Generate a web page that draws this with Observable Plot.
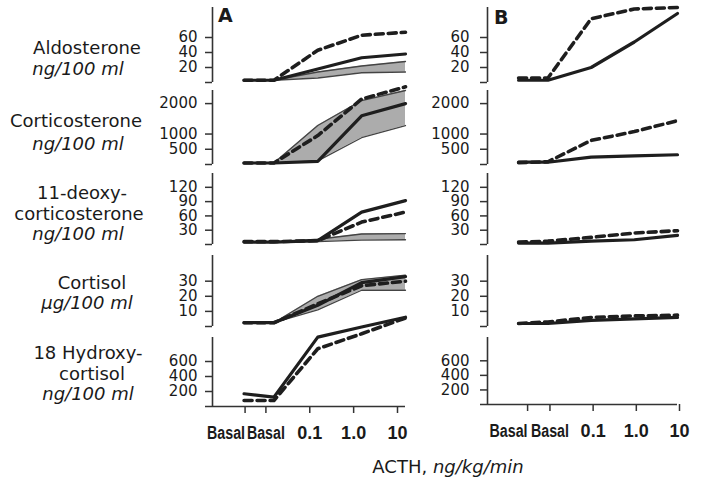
<!DOCTYPE html>
<html><head><meta charset="utf-8">
<script src="https://cdn.jsdelivr.net/npm/d3@7"></script>
<script src="https://cdn.jsdelivr.net/npm/@observablehq/plot@0.6"></script>
<style>
html,body{margin:0;padding:0;background:#fff;}
#chart{position:relative;width:701px;height:478px;overflow:hidden;font-family:"DejaVu Sans",sans-serif;color:#1a1a1a;background:#fff;}
.lbl{position:absolute;white-space:nowrap;font-size:18px;line-height:21px;transform:translate(-50%,-50%);}
.it{font-style:italic;}
.panel{position:absolute;}
.letter{position:absolute;font-weight:bold;font-size:19px;line-height:19px;}
</style></head><body><div id="chart"></div>
<script>
// ---- data ----
const doseLabels = ["Basal", "Basal", "0.1", "1.0", "10"];
const doseLog = [-2.68, -2, -1, 0, 1]; // log10 ACTH dose; basal samples placed to the left

const aldoLabel = ["Aldosterone", "ng/100 ml"];
const corticoLabel = ["Corticosterone", "ng/100 ml"];
const docLabel = ["11-deoxy-", "corticosterone", "ng/100 ml"];
const cortisolLabel = ["Cortisol", "µg/100 ml"];
const ohLabel = ["18 Hydroxy-", "cortisol", "ng/100 ml"];
const xTitle = ["ACTH, ", "ng/kg/min"];
const panelLetters = ["A", "B"];

const ticksAldo = [20, 40, 60];
const ticksCortico = [500, 1000, 2000];
const ticksDoc = [30, 60, 90, 120];
const ticksCortisol = [10, 20, 30];
const ticksOH = [200, 400, 600];

// Panel A
const aldoA_solid = [3, 3, 18, 33, 38];
const aldoA_dash = [3, 3, 43, 63, 67];
const aldoA_lo = [3, 3, 6, 13, 14];
const aldoA_hi = [3, 3, 14, 22, 28];
const corticoA_solid = [50, 50, 100, 1600, 2000];
const corticoA_dash = [50, 50, 950, 2150, 2550];
const corticoA_lo = [50, 50, 120, 880, 1280];
const corticoA_hi = [50, 50, 1280, 2100, 2430];
const docA_solid = [5, 5, 8, 68, 92];
const docA_dash = [6, 6, 8, 47, 68];
const docA_lo = [5, 5, 6, 9, 10];
const docA_hi = [5, 5, 11, 22, 23];
const cortisolA_solid = [2.5, 2.5, 14, 29, 33];
const cortisolA_dash = [2.5, 2.5, 15, 27, 30];
const cortisolA_lo = [2.5, 2.5, 11, 24, 24];
const cortisolA_hi = [2.5, 2.5, 20, 31, 34];
const ohA_solid = [170, 125, 925, 1060, 1190];
const ohA_dash = [80, 80, 770, 970, 1180];

// Panel B
const aldoB_solid = [3, 3, 20, 54, 92];
const aldoB_dash = [6, 6, 85, 98, 100];
const corticoB_solid = [75, 75, 240, 285, 320];
const corticoB_dash = [60, 90, 790, 1080, 1440];
const docB_solid = [3, 3, 7, 10, 19];
const docB_dash = [5, 7, 15, 24, 29];
const cortisolB_solid = [2, 2, 4, 5, 6];
const cortisolB_dash = [2, 3, 6, 7, 7.5];

// ---- layout ----
const rows = [
  {label: aldoLabel, cx: [87, 78], cy: [47, 68], ticks: ticksAldo, ymax: 100, top: 7, bottom: 82,
   A: {solid: aldoA_solid, dash: aldoA_dash, lo: aldoA_lo, hi: aldoA_hi}, B: {solid: aldoB_solid, dash: aldoB_dash}},
  {label: corticoLabel, cx: [76, 78], cy: [120, 143], ticks: ticksCortico, ymax: 2430, top: 90, bottom: 164,
   A: {solid: corticoA_solid, dash: corticoA_dash, lo: corticoA_lo, hi: corticoA_hi}, B: {solid: corticoB_solid, dash: corticoB_dash}},
  {label: docLabel, cx: [82, 79, 78], cy: [192, 213, 233], ticks: ticksDoc, ymax: 149, top: 173, bottom: 244,
   A: {solid: docA_solid, dash: docA_dash, lo: docA_lo, hi: docA_hi}, B: {solid: docB_solid, dash: docB_dash}},
  {label: cortisolLabel, cx: [92, 87], cy: [282, 302], ticks: ticksCortisol, ymax: 47, top: 255, bottom: 326,
   A: {solid: cortisolA_solid, dash: cortisolA_dash, lo: cortisolA_lo, hi: cortisolA_hi}, B: {solid: cortisolB_solid, dash: cortisolB_dash}},
  {label: ohLabel, cx: [88, 92, 88], cy: [352, 373, 393], ticks: ticksOH, ymax: 920, top: 337, bottom: 406,
   A: {solid: ohA_solid, dash: ohA_dash}, B: {}}
];

const chart = document.getElementById("chart");
const xMin = -3.4, xMax = 1;
const ink = "#1e1e1e";
const axisInk = "#333";
const xFont = {fontFamily: "'Liberation Sans',Arial,sans-serif", fontWeight: "bold", fontSize: 18};

function makePanel(col, r) {
  const g = rows[r];
  const left = col ? 425 : 150;
  const axisPx = col ? 487 : 212;
  const rightPx = col ? 677 : 405;
  const bottomPx = (col && r === 4) ? 404 : g.bottom;
  const mt = 30, mb = r === 4 ? 62 : 8, mr = 14;
  const ml = axisPx - left;
  const width = rightPx + mr - left;
  const height = bottomPx - g.top + mt + mb;
  const s = col ? g.B : g.A;
  const table = doseLog.map((x, i) => ({
    x,
    solid: s.solid ? s.solid[i] : null,
    dash: s.dash ? s.dash[i] : null,
    lo: s.lo ? s.lo[i] : null,
    hi: s.hi ? s.hi[i] : null
  }));
  const marks = [];
  if (s.lo) {
    marks.push(Plot.areaY(table, {x: "x", y1: "lo", y2: "hi", fill: "#acacac"}));
    marks.push(Plot.line(table, {x: "x", y: "lo", stroke: "#444", strokeWidth: 1.3}));
    marks.push(Plot.line(table, {x: "x", y: "hi", stroke: "#444", strokeWidth: 1.3}));
  }
  if (s.solid) marks.push(Plot.line(table, {x: "x", y: "solid", stroke: ink, strokeWidth: 3.2, strokeLinejoin: "round"}));
  if (s.dash) marks.push(Plot.line(table, {x: "x", y: "dash", stroke: ink, strokeWidth: 3.6, strokeDasharray: "8,5"}));
  marks.push(Plot.ruleX([xMin], {y1: 0, y2: g.ymax, stroke: axisInk, strokeWidth: 1.6}));
  marks.push(Plot.axisY([0, ...g.ticks], {
    anchor: "left", tickSize: 7, tickPadding: col ? 11 : 8, label: null,
    tickFormat: d => d === 0 ? "" : String(d),
    stroke: axisInk, strokeWidth: 1.5, fill: "#1a1a1a", fontSize: 15
  }));
  if (r === 4) {
    marks.push(Plot.ruleY([0], {x1: xMin, x2: xMax, stroke: axisInk, strokeWidth: 1.6}));
    marks.push(Plot.axisX([doseLog[0]], {
      anchor: "bottom", tickSize: 7, tickPadding: 13, label: null,
      tickFormat: d => doseLabels[doseLog.indexOf(d)],
      textAnchor: "end", dx: col ? 9 : 1, stroke: axisInk, strokeWidth: 1.5, fill: "#1a1a1a", ...xFont
    }));
    marks.push(Plot.axisX(doseLog.slice(1), {
      anchor: "bottom", tickSize: 7, tickPadding: 13, label: null,
      tickFormat: d => doseLabels[doseLog.indexOf(d)],
      dx: col ? 2 : -8, stroke: axisInk, strokeWidth: 1.5, fill: "#1a1a1a", ...xFont
    }));
  }
  const svg = Plot.plot({
    width, height,
    marginLeft: ml, marginRight: mr, marginTop: mt, marginBottom: mb,
    x: {domain: [xMin, xMax], axis: null},
    y: {domain: [0, g.ymax], axis: null},
    style: {background: "none", overflow: "visible", fontFamily: "'DejaVu Sans',sans-serif", fontSize: "15px", color: "#1a1a1a"},
    marks
  });
  // narrow the "Basal" labels like the condensed lettering of the original
  svg.querySelectorAll("text").forEach(tx => {
    if (tx.textContent === "Basal") {
      tx.setAttribute("textLength", 38);
      tx.setAttribute("lengthAdjust", "spacingAndGlyphs");
    }
  });
  svg.classList.add("panel");
  svg.style.left = left + "px";
  svg.style.top = (g.top - mt) + "px";
  chart.appendChild(svg);
}

rows.forEach((g, r) => {
  makePanel(0, r);
  makePanel(1, r);
  g.label.forEach((t, i) => {
    const d = document.createElement("div");
    d.className = "lbl" + (i === g.label.length - 1 ? " it" : "");
    d.textContent = t;
    d.style.left = g.cx[i] + "px";
    d.style.top = g.cy[i] + "px";
    chart.appendChild(d);
  });
});

// panel letters
[[218, 6], [494, 8]].forEach(([x, y], i) => {
  const d = document.createElement("div");
  d.className = "letter";
  d.textContent = panelLetters[i];
  d.style.left = x + "px";
  d.style.top = y + "px";
  chart.appendChild(d);
});

// x title
const t = document.createElement("div");
t.className = "lbl";
t.style.left = "448px";
t.style.top = "466px";
const t1 = document.createElement("span"); t1.textContent = xTitle[0];
const t2 = document.createElement("span"); t2.className = "it"; t2.textContent = xTitle[1];
t.appendChild(t1); t.appendChild(t2);
chart.appendChild(t);
</script></body></html>
